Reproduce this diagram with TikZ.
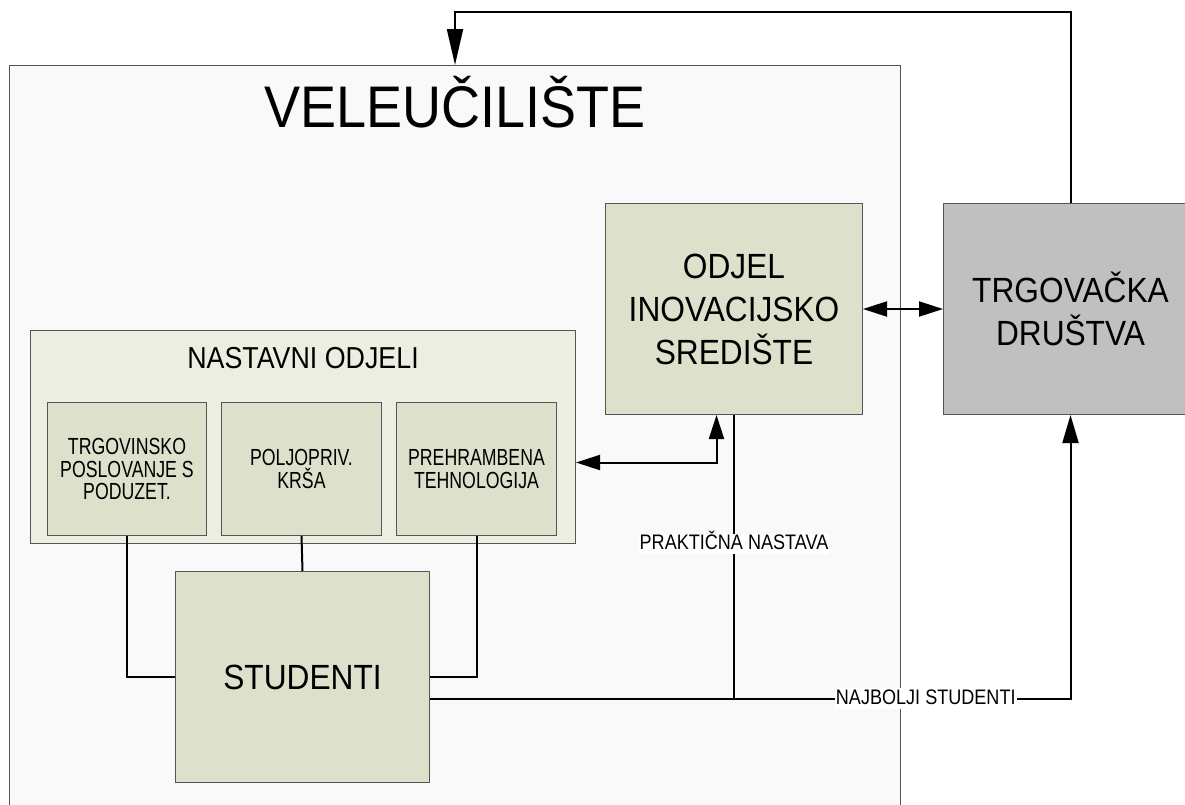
\documentclass[tikz,border=0pt]{standalone}
\usepackage{fontspec}
\setmainfont{Liberation Sans}[FakeStretch=0.9]
\newfontfamily\ftitle{Liberation Sans}[FakeStretch=0.92]
\newfontfamily\fbig{Liberation Sans}[FakeStretch=0.905]
\newfontfamily\fnast{Liberation Sans}[FakeStretch=0.885]
\newfontfamily\fsub{Liberation Sans}[FakeStretch=0.76]
\newfontfamily\flbl{Liberation Sans}[FakeStretch=0.86]
\usetikzlibrary{arrows.meta,calc}
\definecolor{bgouter}{HTML}{F9F9F9}
\definecolor{bgnast}{HTML}{EDEEE2}
\definecolor{boxfill}{HTML}{DDE1CB}
\definecolor{trgfill}{HTML}{C0C0C0}
\definecolor{edgecol}{HTML}{555555}
\begin{document}
\begin{tikzpicture}[x=1pt,y=-1pt,
  box/.style={draw=edgecol, line width=1pt, inner sep=0pt, align=center, anchor=north west},
  conn/.style={line width=2pt, black},
  tipend/.style={-{Triangle[length=28pt,width=16pt]}},
  tipboth/.style={{Triangle[length=24pt,width=15pt]}-{Triangle[length=24pt,width=15pt]}},
  bigfont/.style={font=\fbig\fontsize{35}{43}\selectfont},
  subfont/.style={font=\fsub\fontsize{23.3}{22.5}\selectfont},
  lbl/.style={fill=white, inner sep=1pt, font=\flbl\fontsize{21}{22}\selectfont, text height=15pt, text depth=3.5pt}]
\useasboundingbox (0,0) rectangle (1185,804);
\fill[white] (0,0) rectangle (1185,804);
% outer box
\node[box, fill=bgouter, minimum width=891pt, minimum height=780pt] (vel) at (9,65) {};
\node[anchor=base, font=\ftitle\fontsize{58.7}{60}\selectfont] (title) at ($(vel.north)+(0,62)$) {VELEUČILIŠTE};
% nastavni odjeli
\node[box, fill=bgnast, minimum width=545pt, minimum height=213pt] (nast) at (30,330) {};
\node[anchor=base, font=\fnast\fontsize{30.3}{34}\selectfont] (nasttitle) at ($(nast.north)+(0,38)$) {NASTAVNI ODJELI};
\node[box, fill=boxfill, subfont, minimum width=159pt, minimum height=133pt] (s1) at (47,402) {TRGOVINSKO\\POSLOVANJE S\\PODUZET.};
\node[box, fill=boxfill, subfont, minimum width=160pt, minimum height=133pt] (s2) at (221,402) {POLJOPRIV.\\KRŠA};
\node[box, fill=boxfill, subfont, minimum width=160pt, minimum height=133pt] (s3) at (396,402) {PREHRAMBENA\\TEHNOLOGIJA};
% odjel
\node[box, fill=boxfill, bigfont, minimum width=257pt, minimum height=211pt] (odjel) at (605,203) {ODJEL\\INOVACIJSKO\\SREDIŠTE};
% trgovacka
\node[box, fill=trgfill, bigfont, minimum width=254pt, minimum height=211pt] (trg) at (943,203) {TRGOVAČKA\\DRUŠTVA};
% studenti
\node[box, fill=boxfill, bigfont, minimum width=254pt, minimum height=211pt] (stud) at (175,571) {STUDENTI};
% coordinates
\coordinate (topy) at (0,12);
\coordinate (sj) at ($(stud.east)+(0,21.5)$);
\coordinate (sk) at (trg.south |- sj);
\coordinate (oj) at (odjel.south |- sj);
\coordinate (oa) at ($(odjel.south)+(-17.5,0)$);
\coordinate (na) at ($(nast.east)+(0,25.5)$);
% connectors
\draw[conn] (s1.south) |- (stud.west);
\draw[conn] (s2.south) -- (stud.north);
\draw[conn] (s3.south) |- (stud.east);
\draw[conn, tipend] (sj) -- node[lbl, pos=0.774] {NAJBOLJI STUDENTI} (sk) -- (trg.south);
\draw[conn] (odjel.south) -- node[lbl, pos=0.455] {PRAKTIČNA NASTAVA} (oj);
\draw[conn, tipboth] (na) -| (oa);
\draw[conn, tipboth] (odjel.east) -- (trg.west);
\draw[conn, -{Triangle[length=36pt,width=16pt]}] (trg.north) -- (trg.north |- topy) -| (vel.north);
\end{tikzpicture}
\end{document}
